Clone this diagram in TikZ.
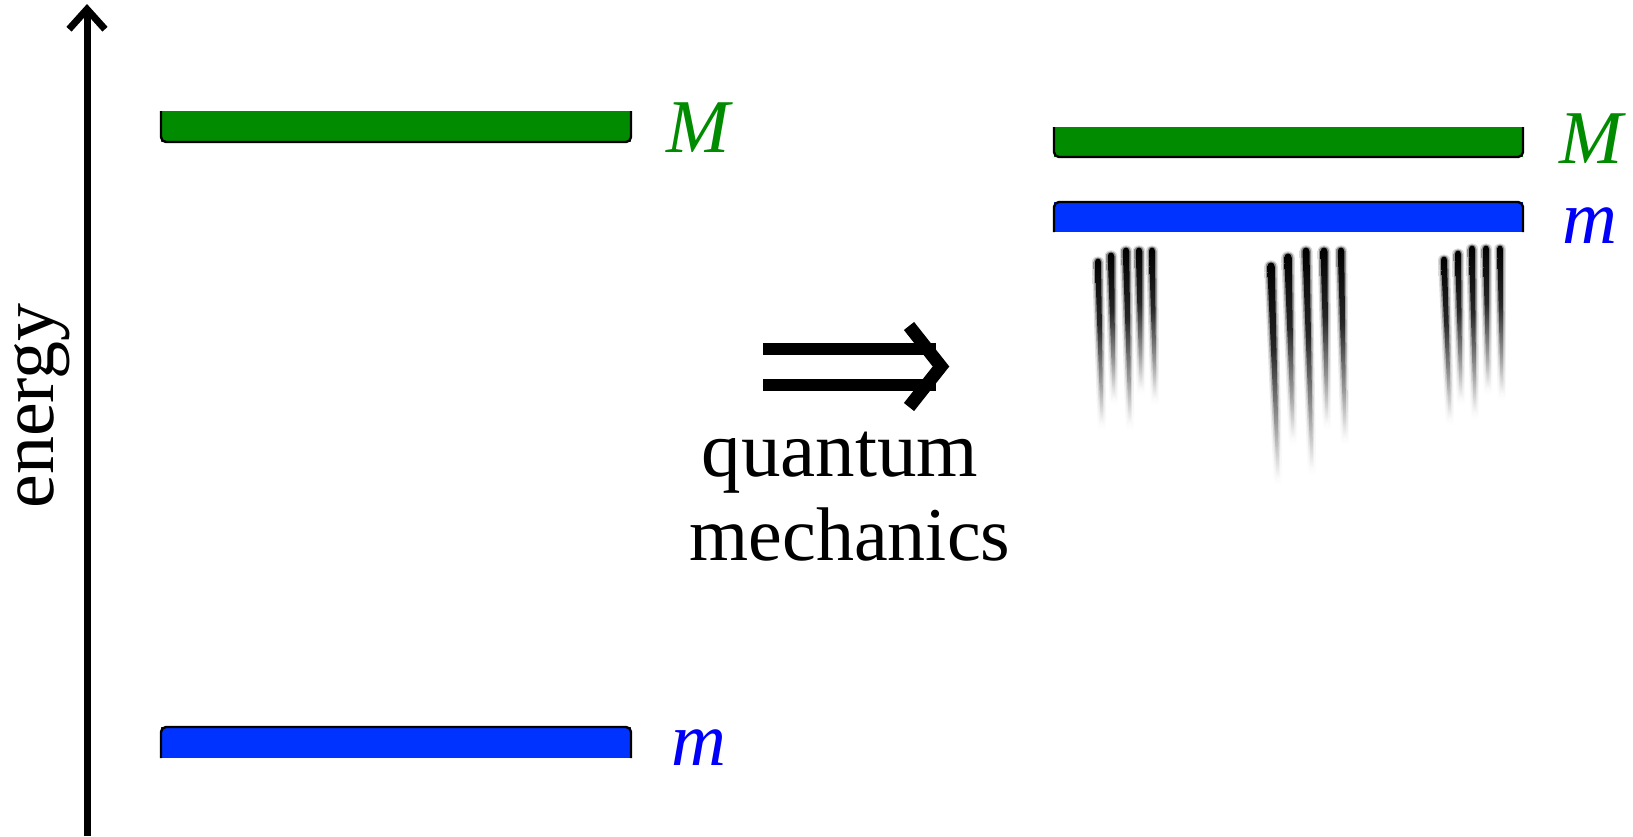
\documentclass[tikz,border=0pt]{standalone}
\usepackage{fontspec}
\setmainfont{Liberation Serif}
\usetikzlibrary{arrows.meta}

\definecolor{levelgreen}{RGB}{0,139,0}
\definecolor{levelblue}{RGB}{0,51,255}
\definecolor{labelblue}{RGB}{0,0,250}

% vertical fade for the smeared lines (0bp = bottom of the path, 100bp = top)
\pgfdeclareverticalshading{streakfade}{100bp}{color(0bp)=(white); color(25bp)=(white); color(38bp)=(black!40); color(55bp)=(black!85); color(75bp)=(black); color(100bp)=(black)}

\begin{document}
\begin{tikzpicture}[x=0.5pt,y=-0.5pt,
  lbl/.style={inner sep=0pt, font=\fontsize{38}{44}\selectfont},
  rim/.style={line width=1.2pt, rounded corners=2.5pt, line join=round},
  fatline/.style={line width=6pt},
]
\useasboundingbox (0,0) rectangle (1633,836);

% energy axis
\coordinate (axisfoot) at (87,836);
\coordinate (axistop) at (87,4);
\draw[line width=3.5pt, -{Straight Barb[length=10pt,width=18pt]}] (axisfoot) -- (axistop);
\node[lbl, rotate=90, anchor=base] (energy) at (54,406) {energy};

% classical levels: M above, m below
\fill[levelgreen] (161,111) rectangle (631,142);
\draw[rim] (161,111) -- (161,142) -- (631,142) -- (631,111);
\fill[levelblue] (161,727) rectangle (631,758);
\draw[rim] (161,758) -- (161,727) -- (631,727) -- (631,758);
\node[lbl, text=levelgreen, anchor=base west] (Mleft) at (666,152) {\itshape M};
\node[lbl, text=labelblue, anchor=base west] (mleft) at (671,765) {\itshape m};

% implication arrow
\draw[fatline] (763,349) -- (936,349) (763,384.5) -- (936,384.5);
\draw[line width=6.5pt, miter limit=10] (909,326) -- (941,366.5) -- (909,407);
\node[lbl, anchor=base] (qm1) at (840,476) {\fontsize{39.5}{44}\selectfont quantum};
\node[lbl, anchor=base] (qm2) at (850,560) {mechanics};

% quantum levels: m pushed up close to M
\fill[levelgreen] (1054,127) rectangle (1523,157);
\draw[rim] (1054,127) -- (1054,157) -- (1523,157) -- (1523,127);
\fill[levelblue] (1054,202) rectangle (1523,232);
\draw[rim] (1054,232) -- (1054,202) -- (1523,202) -- (1523,232);
\node[lbl, text=levelgreen, anchor=base west] (Mright) at (1559,163) {\itshape M};
\node[lbl, text=labelblue, anchor=base west] (mright) at (1562,243) {\itshape m};

% smeared lines below m, each built from a soft wide layer and a sharp core
\def\streaks{1098/259/1102/425/6, 1111/253/1114/400/6.5, 1126/248/1130/425/6.5, 1139/248/1141/390/6.5, 1152/248/1155/400/6,
  1271/263/1278/480/7.5, 1288/254/1293/440/7.5, 1306/248/1312/470/7, 1324/248/1327/425/7, 1341/248/1345/440/6.5,
  1444/257/1450/420/6, 1458/251/1461/400/6, 1472/246/1475/415/6, 1486/246/1488/390/6, 1500/246/1502/395/5.5}
\foreach \pad/\op in {3/0.15, 1.5/0.35, 0/1} {
  \foreach \xt/\yt/\xe/\ye/\w in \streaks {
    \shade[shading=streakfade, opacity=\op]
      ({\xt-\w/2-\pad},{\yt+\w/2}) .. controls ({\xt-\w/2-\pad},{\yt-\w/4-\pad}) and ({\xt+\w/2+\pad},{\yt-\w/4-\pad}) .. ({\xt+\w/2+\pad},{\yt+\w/2})
      -- ({\xe+1.3+\pad},{\ye+2*\pad}) -- ({\xe-1.3-\pad},{\ye+2*\pad}) -- cycle;
  }
}
\end{tikzpicture}
\end{document}
